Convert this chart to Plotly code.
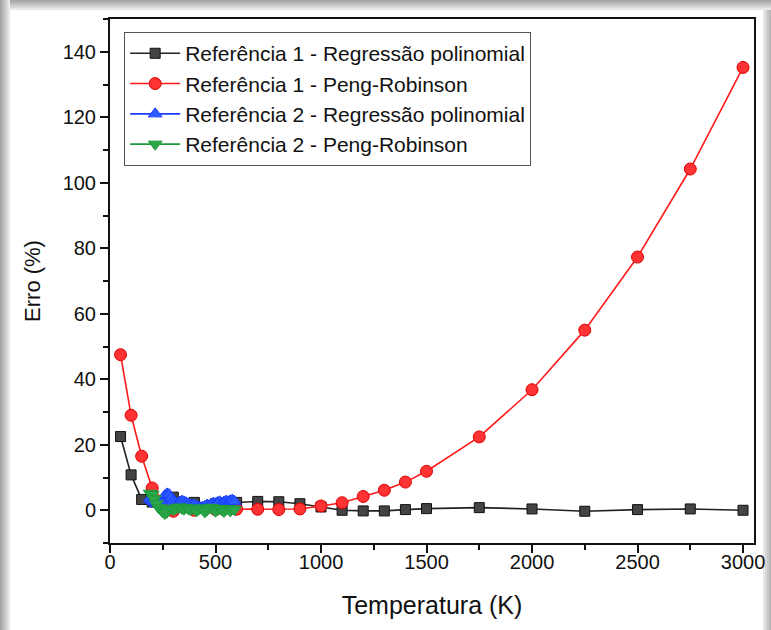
import plotly.graph_objects as go

# ---------------- data ----------------
T1 = [50, 100, 150, 200, 300, 400, 500, 600, 700, 800, 900, 1000, 1100, 1200,
      1300, 1400, 1500, 1750, 2000, 2250, 2500, 2750, 3000]
ref1_poly = [22.5, 10.8, 3.3, 2.5, 4.0, 2.4, 2.0, 2.4, 2.7, 2.6, 2.0, 1.0, 0.0, -0.2,
             -0.2, 0.2, 0.5, 0.8, 0.4, -0.3, 0.2, 0.4, 0.0]
ref1_pr = [47.5, 29.0, 16.5, 6.8, -0.3, 0.0, 0.2, 0.3, 0.3, 0.2, 0.4, 1.3, 2.3, 4.2,
           6.1, 8.6, 11.9, 22.4, 36.8, 55.0, 77.3, 104.2, 135.2]

T2 = [190, 200, 210, 220, 230, 240, 250, 260, 270, 280, 290, 300, 310, 320, 330,
      340, 350, 360, 370, 380, 390, 400, 410, 420, 430, 440, 450, 460, 470, 480,
      490, 500, 510, 520, 530, 540, 550, 560, 570, 580, 590]
ref2_poly = [3.5, 3.0, 2.5, 2.0, 2.2, 2.8, 3.5, 4.5, 5.0, 4.8, 3.8, 2.8, 2.2, 2.0, 2.5,
             2.8, 2.6, 2.3, 2.0, 1.8, 1.5, 1.6, 1.3, 1.0, 0.8, 0.9, 1.2, 1.6, 1.4, 1.8,
             2.2, 2.0, 2.4, 2.6, 2.2, 2.5, 2.8, 2.6, 2.9, 3.1, 2.7]
ref2_pr = [5.2, 4.8, 3.5, 2.0, 0.8, 0.2, -0.5, -1.0, -0.6, 0.3, 0.6, 0.2, 0.5, 0.8, 1.0,
           0.6, 0.3, 0.9, 0.5, 0.2, 0.6, 0.4, -0.2, 0.3, 0.7, 0.2, -0.5, 0.1, 0.6, 0.9,
           0.4, -0.3, 0.2, 0.6, 0.1, -0.4, 0.3, 0.5, -0.2, 0.4, 0.2]

names = ["Referência 1 - Regressão polinomial", "Referência 1 - Peng-Robinson",
         "Referência 2 - Regressão polinomial", "Referência 2 - Peng-Robinson"]

FONT = "Liberation Sans, Arial, sans-serif"

fig = go.Figure()
fig.add_trace(go.Scatter(x=T1, y=ref1_poly, name=names[0], mode="lines+markers",
                         line=dict(color="#222222", width=1.6),
                         marker=dict(symbol="square", size=10, color="#444444",
                                     line=dict(color="#111111", width=1))))
fig.add_trace(go.Scatter(x=T1, y=ref1_pr, name=names[1], mode="lines+markers",
                         line=dict(color="#ff1a1a", width=1.6),
                         marker=dict(symbol="circle", size=12, color="#ff3333",
                                     line=dict(color="#e00000", width=1))))
fig.add_trace(go.Scatter(x=T2, y=ref2_poly, name=names[2], mode="lines+markers",
                         line=dict(color="#1a3cff", width=1.6),
                         marker=dict(symbol="triangle-up", size=12, color="#2a5cff",
                                     line=dict(color="#1a3cff", width=1))))
fig.add_trace(go.Scatter(x=T2, y=ref2_pr, name=names[3], mode="lines+markers",
                         line=dict(color="#1e9a3c", width=1.6),
                         marker=dict(symbol="triangle-down", size=12, color="#2ca84a",
                                     line=dict(color="#1e9a3c", width=1))))

# picture-frame shadow (paper coords: plot x 110..754 px, y 19..543 px)
W, H = 644.0, 524.0
def px(xp):
    return (xp - 110) / W
def py(yp):
    return (543 - yp) / H

shapes = []
greys = ["#a8a8a8", "#b8b8b8", "#c8c8c8", "#d8d8d8", "#e8e8e8"]
for i, g in enumerate(greys):
    shapes.append(dict(type="rect", xref="paper", yref="paper",
                       x0=px(i * 2), x1=px(i * 2 + 2), y0=py(630), y1=py(0),
                       fillcolor=g, line=dict(width=0), layer="below"))
    shapes.append(dict(type="rect", xref="paper", yref="paper",
                       x0=px(i * 2), x1=px(771), y0=py(i * 2 + 2), y1=py(i * 2),
                       fillcolor=g, line=dict(width=0), layer="below"))
for i, g in enumerate(reversed(greys[1:])):
    shapes.append(dict(type="rect", xref="paper", yref="paper",
                       x0=px(763 + i * 2), x1=px(765 + i * 2), y0=py(630), y1=py(10),
                       fillcolor=g, line=dict(width=0), layer="below"))

fig.update_layout(
    width=771, height=630,
    margin=dict(l=110, r=17, t=19, b=87, autoexpand=False),
    paper_bgcolor="white", plot_bgcolor="white",
    font=dict(family=FONT, color="#111111"),
    shapes=shapes,
    legend=dict(x=0.022, y=0.975, xanchor="left", yanchor="top",
                bgcolor="white", bordercolor="#555555", borderwidth=1,
                font=dict(size=21, family=FONT, color="#111111"),
                itemwidth=50, tracegroupgap=0),
    xaxis=dict(range=[0, 3052], tick0=0, dtick=500, automargin=False,
               showline=True, linecolor="#111111", linewidth=2, mirror=True,
               ticks="outside", ticklen=8, tickwidth=1.5, tickcolor="#111111",
               ticklabelstandoff=-8,
               minor=dict(dtick=250, ticks="outside", ticklen=5, tickwidth=1.5,
                          tickcolor="#111111"),
               showgrid=False, zeroline=False,
               tickfont=dict(size=20, family=FONT),
               title=dict(text="Temperatura (K)", font=dict(size=25, family=FONT),
                          standoff=24)),
    yaxis=dict(range=[-10, 150], tick0=0, dtick=20, automargin=False,
               showline=True, linecolor="#111111", linewidth=2, mirror=True,
               ticks="outside", ticklen=8, tickwidth=1.5, tickcolor="#111111",
               minor=dict(dtick=10, ticks="outside", ticklen=5, tickwidth=1.5,
                          tickcolor="#111111"),
               showgrid=False, zeroline=False,
               tickfont=dict(size=20, family=FONT),
               title=dict(text="Erro (%)", font=dict(size=22, family=FONT),
                          standoff=16)),
)

fig.write_html("out.html", config={"displayModeBar": False},
               post_script="document.body.style.margin='0';")
